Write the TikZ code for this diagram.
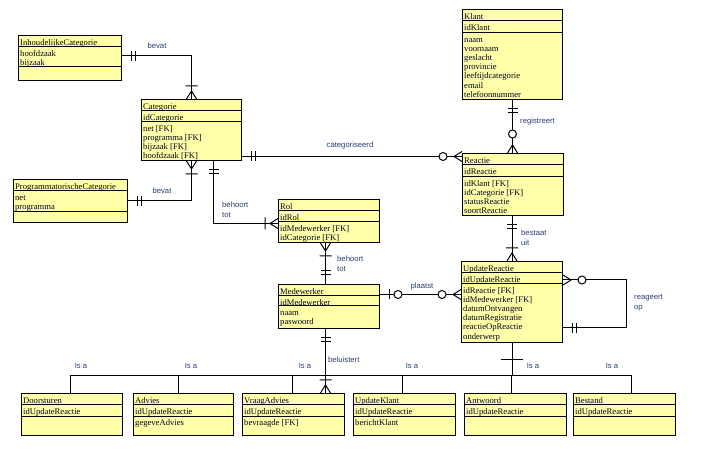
\documentclass[tikz,border=0pt]{standalone}
\usepackage{fontspec}
\setmainfont{Liberation Serif}
\newfontfamily\lblfont{Liberation Sans}
\definecolor{entfill}{RGB}{255,255,170}
\definecolor{enttext}{RGB}{0,0,30}
\definecolor{lbltext}{RGB}{40,60,110}

% entity: name, position, width, height, key height, title, keys, attributes
\newcommand{\entity}[8]{%
  \node[box,minimum width=#3pt,minimum height=#4pt] (#1) at #2 {};
  \draw[rel] ([yshift=-12pt]#1.north west) -- ([yshift=-12pt]#1.north east);
  \draw[rel] ([yshift=-12pt-#5pt]#1.north west) -- ([yshift=-12pt-#5pt]#1.north east);
  \node[etxt] (#1-t) at ([shift={(2pt,-3pt)}]#1.north west) {\rule{0pt}{7pt}#6};
  \node[etxt] (#1-k) at ([shift={(2pt,-14.5pt)}]#1.north west) {\rule{0pt}{7pt}#7};
  \node[etxt] (#1-a) at ([shift={(2pt,-14pt-#5pt)}]#1.north west) {\rule{0pt}{7pt}#8};
}

\begin{document}
\begin{tikzpicture}[x=1pt,y=-1pt,
    box/.style={draw,fill=entfill,line width=1pt,anchor=north west,inner sep=0pt},
    etxt/.style={anchor=north west,inner sep=0pt,align=left,text=enttext,font=\fontsize{8.6}{9.2}\selectfont},
    lbl/.style={inner sep=0pt,align=left,text=lbltext,font=\lblfont\fontsize{7.7}{10}\selectfont},
    rel/.style={line width=1pt},
    exactone/.pic={\draw[rel] (9,-5)--(9,5) (13,-5)--(13,5);},
    onemany/.pic={\draw[rel] (0,-5)--(8,0)--(0,5) (13,-6)--(13,6);},
    zeromany/.pic={\draw[rel] (0,-5)--(8,0)--(0,5); \draw[rel,fill=white] (19,0) circle[radius=4pt];},
    zeroone/.pic={\draw[rel] (9,-5)--(9,5); \draw[rel,fill=white] (18,0) circle[radius=4pt];},
    subbar/.pic={\draw[rel] (17,-11)--(17,11);}]
  \useasboundingbox (0,0) rectangle (705,449);

  \entity{inh}{(18,35)}{103}{45}{20}{InhoudelijkeCategorie}{hoofdzaak\\bijzaak}{}
  \entity{cat}{(141,99)}{100}{61}{11}{Categorie}{idCategorie}{net [FK]\\programma [FK]\\bijzaak [FK]\\hoofdzaak [FK]}
  \entity{prog}{(13,179)}{114}{43}{21}{ProgrammatorischeCategorie}{net\\programma}{}
  \entity{klant}{(462,9)}{100}{90}{12}{Klant}{idKlant}{naam\\voornaam\\geslacht\\provincie\\leeftijdcategorie\\email\\telefoonnummer}
  \entity{reactie}{(462,153)}{101}{62}{12}{Reactie}{idReactie}{idKlant [FK]\\idCategorie [FK]\\statusReactie\\soortReactie}
  \entity{rol}{(278,199)}{101}{43}{11}{Rol}{idRol}{idMedewerker [FK]\\idCategorie [FK]}
  \entity{mdw}{(278,284)}{101}{44}{10}{Medewerker}{idMedewerker}{naam\\paswoord}
  \entity{upd}{(461,261)}{101}{81}{11}{UpdateReactie}{idUpdateReactie}{idReactie [FK]\\idMedewerker [FK]\\datumOntvangen\\datumRegistratie\\reactieOpReactie\\onderwerp}
  \entity{doors}{(21,393)}{101}{42}{11}{Doorsturen}{idUpdateReactie}{}
  \entity{advies}{(133,393)}{100}{42}{11}{Advies}{idUpdateReactie}{gegeveAdvies}
  \entity{vraag}{(242,393)}{102}{42}{11}{VraagAdvies}{idUpdateReactie}{bevraagde [FK]}
  \entity{updklant}{(353,393)}{102}{42}{11}{UpdateKlant}{idUpdateReactie}{berichtKlant}
  \entity{antw}{(464,393)}{102}{42}{11}{Antwoord}{idUpdateReactie}{}
  \entity{bestand}{(573,393)}{102}{42}{11}{Bestand}{idUpdateReactie}{}

  % categorie
  \draw[rel] ([yshift=2pt]inh.east) -| (cat.north);
  \pic at ([yshift=2pt]inh.east) {exactone};
  \pic[rotate=90] at (cat.north) {onemany};
  \draw[rel] (prog.east) -| (cat.south);
  \pic at (prog.east) {exactone};
  \pic[rotate=-90] at (cat.south) {onemany};
  \coordinate (catr) at ([yshift=-26.5pt]cat.east);
  \draw[rel] (catr) -- (catr -| reactie.west);
  \pic at (catr) {exactone};
  \pic[rotate=180] at (catr -| reactie.west) {zeromany};
  \coordinate (catb) at ([xshift=22pt]cat.south);
  \coordinate (rolw) at ([yshift=-2.5pt]rol.west);
  \draw[rel] (catb) |- (rolw);
  \pic[rotate=-90] at (catb) {exactone};
  \pic[rotate=180] at (rolw) {onemany};

  % reactie
  \draw[rel] (klant.south) -- (klant.south |- reactie.north);
  \pic[rotate=-90] at (klant.south) {exactone};
  \pic[rotate=90] at (klant.south |- reactie.north) {zeromany};
  \draw[rel] (upd.north |- reactie.south) -- (upd.north);
  \pic[rotate=-90] at (upd.north |- reactie.south) {exactone};
  \pic[rotate=90] at (upd.north) {onemany};

  % updatereactie
  \coordinate (upda) at ([yshift=-19pt]upd.north east);
  \coordinate (updb) at ([yshift=-67pt]upd.north east);
  \draw[rel] (upda) -- ++(63,0) |- (updb);
  \pic at (upda) {zeromany};
  \pic at (updb) {exactone};

  % medewerker
  \coordinate (rols) at ([xshift=-3.5pt]rol.south);
  \draw[rel] (rols) -- (rols |- mdw.north);
  \pic[rotate=-90] at (rols) {onemany};
  \pic[rotate=90] at (rols |- mdw.north) {exactone};
  \coordinate (mdwe) at ([yshift=12pt]mdw.east);
  \draw[rel] (mdwe) -- (mdwe -| upd.west);
  \pic at (mdwe) {zeroone};
  \pic[rotate=180] at (mdwe -| upd.west) {zeromany};
  \coordinate (mdws) at ([xshift=-3.5pt]mdw.south);
  \draw[rel] (mdws) -- (mdws |- vraag.north);
  \pic[rotate=-90] at (mdws) {exactone};
  \pic[rotate=90] at (mdws |- vraag.north) {onemany};

  % subtypes
  \coordinate (isa) at ([yshift=-33pt]upd.south);
  \draw[rel] (upd.south) -- (isa);
  \pic[rotate=-90] at (upd.south) {subbar};
  \foreach \e/\dx in {doors/-2,advies/-5,vraag/-1,updklant/-2,antw/-4,bestand/7}
    \draw[rel] ([xshift=\dx pt]\e.north) |- (isa);

  \node[lbl] (l-bevat1) at (157,46) {bevat};
  \node[lbl] (l-bevat2) at (162,191) {bevat};
  \node[lbl] (l-cat) at (350,146) {categoriseerd};
  \node[lbl,anchor=west] (l-reg) at (520,122) {registreert};
  \node[lbl,anchor=west] (l-best) at (521,238) {bestaat\\uit};
  \node[lbl,anchor=west] (l-reag) at (634,303) {reageert\\op};
  \node[lbl,anchor=west] (l-beh1) at (222,210) {behoort\\tot};
  \node[lbl,anchor=west] (l-beh2) at (337,263.5) {behoort\\tot};
  \node[lbl] (l-pl) at (422,287) {plaatst};
  \node[lbl,anchor=west] (l-bel) at (328,360) {beluistert};
  \foreach \lx [count=\i] in {81,191,305,412,533,612}
    \node[lbl] (l-isa\i) at (\lx,366) {Is a};
\end{tikzpicture}
\end{document}
